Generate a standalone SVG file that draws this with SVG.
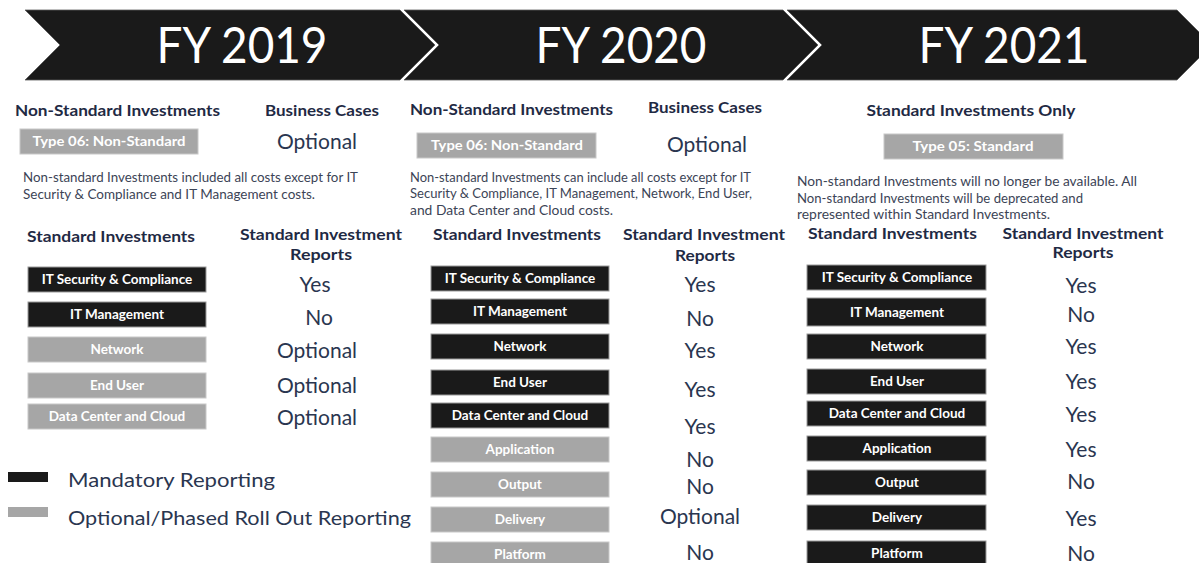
<svg xmlns="http://www.w3.org/2000/svg" width="1199" height="563" viewBox="0 0 1199 563">
<style>
.band{fill:#1a1a1a;stroke:#5a5a5a;stroke-width:0.8}
.fy{font-family:Lato,"Open Sans",sans-serif;font-weight:400;font-size:50px;fill:#ffffff;text-anchor:middle}
.h{font-family:Lato,"Open Sans",sans-serif;font-weight:700;font-size:15px;fill:#1f2a44}
.hm{font-family:Lato,"Open Sans",sans-serif;font-weight:700;font-size:15px;fill:#1f2a44;text-anchor:middle}
.v{font-family:Lato,"Open Sans",sans-serif;font-size:21px;fill:#2a3650;text-anchor:middle}
.p{font-family:Lato,"Open Sans",sans-serif;font-size:13px;fill:#3c4456}
.blk{fill:#1a1a1a;stroke:#9a9a9a;stroke-width:1}
.gry{fill:#a6a6a6;stroke:#c8c8c8;stroke-width:1}
.lb{font-family:Lato,"Open Sans",sans-serif;font-weight:700;font-size:13.5px;fill:#ffffff;text-anchor:middle}
.lg{font-family:Lato,"Open Sans",sans-serif;font-size:19.5px;fill:#2a3650}
</style>
<rect width="1199" height="563" fill="#ffffff"/>
<g id="header">
<polygon class="band" points="25,10 400,10 435,45 400,80 25,80 60,45"/>
<polygon class="band" points="404,10 783,10 818,45 783,80 404,80 439,45"/>
<polygon class="band" points="787,10 1177,10 1212,45 1177,80 787,80 822,45"/>
<text class="fy" x="242" y="63" textLength="171" lengthAdjust="spacingAndGlyphs">FY 2019</text>
<text class="fy" x="621" y="63" textLength="171" lengthAdjust="spacingAndGlyphs">FY 2020</text>
<text class="fy" x="1004" y="63" textLength="171" lengthAdjust="spacingAndGlyphs">FY 2021</text>
</g>
<g id="fy2019">
<text class="h" x="15" y="116" textLength="205" lengthAdjust="spacingAndGlyphs">Non-Standard Investments</text>
<text class="h" x="265" y="116" textLength="114" lengthAdjust="spacingAndGlyphs">Business Cases</text>
<g id="n19-type06"><rect class="gry" x="20" y="129" width="178" height="25"/><text class="lb" x="109" y="146" textLength="153" lengthAdjust="spacingAndGlyphs">Type 06: Non-Standard</text></g>
<text class="v" x="317" y="149">Optional</text>
<text class="p" x="23" y="182" textLength="335" lengthAdjust="spacingAndGlyphs">Non-standard Investments included all costs except for IT</text>
<text class="p" x="23" y="199" textLength="292" lengthAdjust="spacingAndGlyphs">Security &amp; Compliance and IT Management costs.</text>
<text class="h" x="27" y="242" textLength="168" lengthAdjust="spacingAndGlyphs">Standard Investments</text>
<text class="hm" x="321" y="240" textLength="162" lengthAdjust="spacingAndGlyphs">Standard Investment</text>
<text class="hm" x="321" y="260" textLength="62" lengthAdjust="spacingAndGlyphs">Reports</text>
<g id="n19-sec"><rect class="blk" x="28" y="267" width="178" height="25"/><text class="lb" x="117" y="284">IT Security &amp; Compliance</text></g>
<g id="n19-mgmt"><rect class="blk" x="28" y="302" width="178" height="25"/><text class="lb" x="117" y="319">IT Management</text></g>
<g id="n19-net"><rect class="gry" x="28" y="337" width="178" height="25"/><text class="lb" x="117" y="354">Network</text></g>
<g id="n19-eu"><rect class="gry" x="28" y="373" width="178" height="25"/><text class="lb" x="117" y="390">End User</text></g>
<g id="n19-dc"><rect class="gry" x="28" y="404" width="178" height="25"/><text class="lb" x="117" y="421">Data Center and Cloud</text></g>
<text class="v" x="315" y="292">Yes</text>
<text class="v" x="319" y="325">No</text>
<text class="v" x="317" y="358">Optional</text>
<text class="v" x="317" y="393">Optional</text>
<text class="v" x="317" y="425">Optional</text>
</g>
<g id="fy2020">
<text class="h" x="410" y="115" textLength="203" lengthAdjust="spacingAndGlyphs">Non-Standard Investments</text>
<text class="h" x="648" y="113" textLength="114" lengthAdjust="spacingAndGlyphs">Business Cases</text>
<g id="n20-type06"><rect class="gry" x="417" y="133" width="179" height="25"/><text class="lb" x="507" y="150" textLength="152" lengthAdjust="spacingAndGlyphs">Type 06: Non-Standard</text></g>
<text class="v" x="707" y="152">Optional</text>
<text class="p" x="410" y="182" textLength="341" lengthAdjust="spacingAndGlyphs">Non-standard Investments can include all costs except for IT</text>
<text class="p" x="410" y="198" textLength="342" lengthAdjust="spacingAndGlyphs">Security &amp; Compliance, IT Management, Network, End User,</text>
<text class="p" x="410" y="215" textLength="203" lengthAdjust="spacingAndGlyphs">and Data Center and Cloud costs.</text>
<text class="h" x="433" y="240" textLength="168" lengthAdjust="spacingAndGlyphs">Standard Investments</text>
<text class="hm" x="704" y="240" textLength="162" lengthAdjust="spacingAndGlyphs">Standard Investment</text>
<text class="hm" x="705" y="261" textLength="60" lengthAdjust="spacingAndGlyphs">Reports</text>
<g id="n20-sec"><rect class="blk" x="431" y="266" width="178" height="25"/><text class="lb" x="520" y="283">IT Security &amp; Compliance</text></g>
<g id="n20-mgmt"><rect class="blk" x="431" y="299" width="178" height="25"/><text class="lb" x="520" y="316">IT Management</text></g>
<g id="n20-net"><rect class="blk" x="431" y="334" width="178" height="25"/><text class="lb" x="520" y="351">Network</text></g>
<g id="n20-eu"><rect class="blk" x="431" y="370" width="178" height="25"/><text class="lb" x="520" y="387">End User</text></g>
<g id="n20-dc"><rect class="blk" x="431" y="403" width="178" height="25"/><text class="lb" x="520" y="420">Data Center and Cloud</text></g>
<g id="n20-app"><rect class="gry" x="431" y="437" width="178" height="25"/><text class="lb" x="520" y="454">Application</text></g>
<g id="n20-out"><rect class="gry" x="431" y="472" width="178" height="25"/><text class="lb" x="520" y="489">Output</text></g>
<g id="n20-del"><rect class="gry" x="431" y="507" width="178" height="25"/><text class="lb" x="520" y="524">Delivery</text></g>
<g id="n20-plat"><rect class="gry" x="431" y="542" width="178" height="25"/><text class="lb" x="520" y="559">Platform</text></g>
<text class="v" x="700" y="292">Yes</text>
<text class="v" x="700" y="326">No</text>
<text class="v" x="700" y="358">Yes</text>
<text class="v" x="700" y="397">Yes</text>
<text class="v" x="700" y="434">Yes</text>
<text class="v" x="700" y="467">No</text>
<text class="v" x="700" y="494">No</text>
<text class="v" x="700" y="524">Optional</text>
<text class="v" x="700" y="560">No</text>
</g>
<g id="fy2021">
<text class="hm" x="971" y="116" textLength="209" lengthAdjust="spacingAndGlyphs">Standard Investments Only</text>
<g id="n21-type05"><rect class="gry" x="884" y="134" width="179" height="25"/><text class="lb" x="973" y="151" textLength="121" lengthAdjust="spacingAndGlyphs">Type 05: Standard</text></g>
<text class="p" x="797" y="186" textLength="340" lengthAdjust="spacingAndGlyphs">Non-standard Investments will no longer be available. All</text>
<text class="p" x="797" y="203" textLength="286" lengthAdjust="spacingAndGlyphs">Non-standard Investments will be deprecated and</text>
<text class="p" x="797" y="219" textLength="253" lengthAdjust="spacingAndGlyphs">represented within Standard Investments.</text>
<text class="h" x="808" y="239" textLength="169" lengthAdjust="spacingAndGlyphs">Standard Investments</text>
<text class="hm" x="1083" y="239" textLength="161" lengthAdjust="spacingAndGlyphs">Standard Investment</text>
<text class="hm" x="1083" y="258" textLength="61" lengthAdjust="spacingAndGlyphs">Reports</text>
<g id="n21-sec"><rect class="blk" x="807" y="265" width="179" height="25"/><text class="lb" x="897" y="282">IT Security &amp; Compliance</text></g>
<g id="n21-mgmt"><rect class="blk" x="807" y="298" width="179" height="28"/><text class="lb" x="897" y="317">IT Management</text></g>
<g id="n21-net"><rect class="blk" x="807" y="334" width="179" height="25"/><text class="lb" x="897" y="351">Network</text></g>
<g id="n21-eu"><rect class="blk" x="807" y="369" width="179" height="25"/><text class="lb" x="897" y="386">End User</text></g>
<g id="n21-dc"><rect class="blk" x="807" y="401" width="179" height="25"/><text class="lb" x="897" y="418">Data Center and Cloud</text></g>
<g id="n21-app"><rect class="blk" x="807" y="436" width="179" height="25"/><text class="lb" x="897" y="453">Application</text></g>
<g id="n21-out"><rect class="blk" x="807" y="470" width="179" height="25"/><text class="lb" x="897" y="487">Output</text></g>
<g id="n21-del"><rect class="blk" x="807" y="505" width="179" height="25"/><text class="lb" x="897" y="522">Delivery</text></g>
<g id="n21-plat"><rect class="blk" x="807" y="541" width="179" height="25"/><text class="lb" x="897" y="558">Platform</text></g>
<text class="v" x="1081" y="293">Yes</text>
<text class="v" x="1081" y="322">No</text>
<text class="v" x="1081" y="354">Yes</text>
<text class="v" x="1081" y="389">Yes</text>
<text class="v" x="1081" y="422">Yes</text>
<text class="v" x="1081" y="457">Yes</text>
<text class="v" x="1081" y="489">No</text>
<text class="v" x="1081" y="526">Yes</text>
<text class="v" x="1081" y="561">No</text>
</g>
<g id="legend">
<rect x="8" y="472" width="40" height="10" fill="#1a1a1a"/>
<text class="lg" x="68" y="487" textLength="207" lengthAdjust="spacingAndGlyphs">Mandatory Reporting</text>
<rect x="8" y="507" width="40" height="10" fill="#a6a6a6"/>
<text class="lg" x="68" y="525" textLength="343" lengthAdjust="spacingAndGlyphs">Optional/Phased Roll Out Reporting</text>
</g>
</svg>
